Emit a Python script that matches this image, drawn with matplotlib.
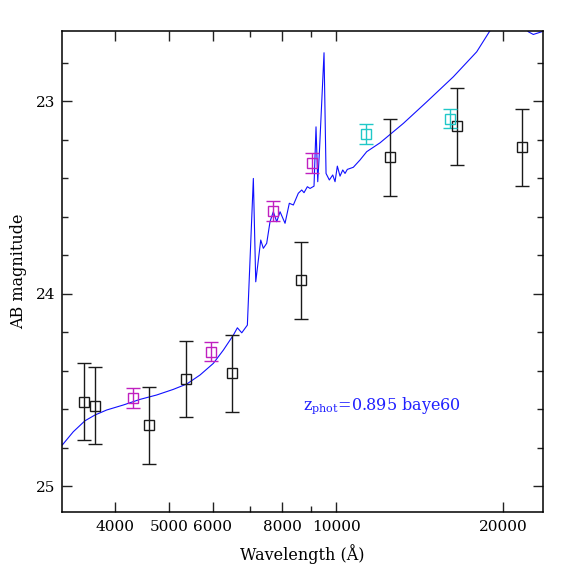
import numpy as np
import matplotlib
matplotlib.use('Agg')
import matplotlib.pyplot as plt
from matplotlib.ticker import FixedLocator, NullFormatter, MultipleLocator

plt.rcParams['font.family'] = ['DejaVu Serif']
plt.rcParams['mathtext.fontset'] = 'dejavuserif'

# best-fit template
sed_wave = [3212, 3362, 3529, 3679, 3862, 4138, 4433, 4752, 5090, 5383,
            5689, 6010, 6265, 6531, 6641, 6763, 6922, 7096, 7167, 7317,
            7396, 7500, 7604, 7709, 7819, 7927, 8093, 8238, 8377, 8551,
            8673, 8756, 8878, 8978, 9127, 9203, 9269, 9331, 9514, 9594,
            9726, 9864, 9959, 10054, 10167, 10282, 10380, 10480, 10744, 11047,
            11357, 12002, 13222, 14570, 16268, 17926, 18888, 20580, 22210, 22670,
            23470, 23800]
sed_mag = [24.787, 24.718, 24.661, 24.631, 24.605, 24.579, 24.550, 24.527, 24.498, 24.470,
           24.423, 24.363, 24.294, 24.216, 24.178, 24.204, 24.164, 23.402, 23.939, 23.722,
           23.765, 23.739, 23.627, 23.575, 23.627, 23.575, 23.635, 23.531, 23.540, 23.479,
           23.462, 23.476, 23.445, 23.454, 23.442, 23.134, 23.419, 23.272, 22.749, 23.376,
           23.410, 23.384, 23.419, 23.338, 23.390, 23.358, 23.376, 23.355, 23.344, 23.306,
           23.263, 23.217, 23.116, 23.004, 22.874, 22.744, 22.640, 22.500, 22.640, 22.654,
           22.640, 22.620]

# observed photometry
obs_wave = [3519, 3674, 4597, 5374, 6503, 8637, 12528, 16500, 21610]
obs_mag = [24.562, 24.583, 24.685, 24.444, 24.413, 23.931, 23.293, 23.132, 23.241]
obs_err = [0.2, 0.2, 0.2, 0.2, 0.2, 0.2, 0.2, 0.2, 0.2]

mag_wave = [4313, 5944, 7709, 9065]
mag_mag = [24.543, 24.302, 23.571, 23.322]
mag_err = [0.05, 0.05, 0.05, 0.05]

cyan_wave = [11325, 16069]
cyan_mag = [23.171, 23.092]
cyan_err = [0.05, 0.05]

xticks_major = [4000, 5000, 6000, 8000, 10000, 20000]
xticks_minor = [7000, 9000]

fig = plt.figure(figsize=(5.74, 5.74), dpi=100)
ax = fig.add_axes([0.108, 0.108, 0.838, 0.838])

ax.plot(sed_wave, sed_mag, color='#1010ff', lw=0.8, zorder=2)

eb = dict(fmt='s', ms=7.2, mfc='none', capsize=4.7, elinewidth=1.0,
          capthick=1.0, mew=1.0, zorder=3)
ax.errorbar(obs_wave, obs_mag, yerr=obs_err, color='#1a1a1a', **eb)
ax.errorbar(mag_wave, mag_mag, yerr=mag_err, color='#c020c0', **eb)
ax.errorbar(cyan_wave, cyan_mag, yerr=cyan_err, color='#20c8c8', **eb)

ax.set_xscale('log')
ax.set_xlim(3208, 23600)
ax.set_ylim(25.135, 22.636)

ax.xaxis.set_major_locator(FixedLocator(xticks_major))
ax.xaxis.set_major_formatter(plt.FixedFormatter([str(t) for t in xticks_major]))
ax.xaxis.set_minor_locator(FixedLocator(xticks_minor))
ax.xaxis.set_minor_formatter(NullFormatter())
ax.yaxis.set_major_locator(FixedLocator([23, 24, 25]))
ax.yaxis.set_minor_locator(MultipleLocator(0.2))

ax.tick_params(which='both', direction='in', top=True, right=True,
               labelsize=11, width=1.0, color='#222222')
ax.tick_params(which='major', length=7.2)
ax.tick_params(which='minor', length=4)
ax.tick_params(axis='x', which='major', pad=6)
ax.tick_params(axis='y', which='major', pad=5)
for s in ax.spines.values():
    s.set_linewidth(1.1)

ax.set_xlabel('Wavelength (Å)', fontsize=11.5, labelpad=7)
ax.set_ylabel('AB magnitude', fontsize=11.5, labelpad=6)

ax.text(0.501, 0.214, r'z$_{\rm phot}$=0.895 baye60', transform=ax.transAxes,
        color='#2020ff', fontsize=11.5, ha='left', va='baseline')

fig.savefig('out.png', dpi=100)
